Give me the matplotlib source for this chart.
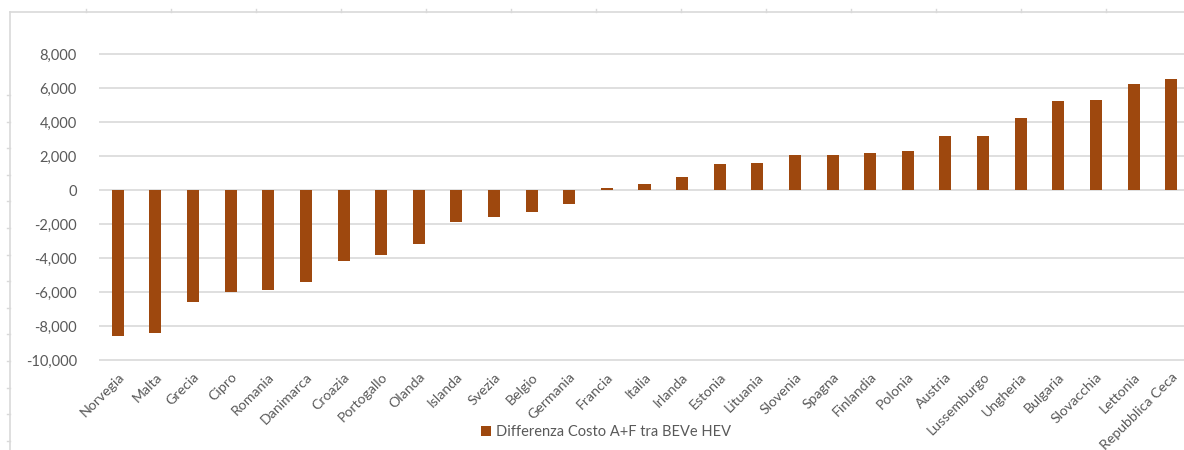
# Differenza Costo A+F tra BEV e HEV per paese
import matplotlib
matplotlib.use("Agg")
import matplotlib.pyplot as plt
from matplotlib.lines import Line2D
import numpy as np

# --- Data ---
countries = ["Norvegia", "Malta", "Grecia", "Cipro", "Romania", "Danimarca",
             "Croazia", "Portogallo", "Olanda", "Islanda", "Svezia", "Belgio",
             "Germania", "Francia", "Italia", "Irlanda", "Estonia", "Lituania",
             "Slovenia", "Spagna", "Finlandia", "Polonia", "Austria",
             "Lussemburgo", "Ungheria", "Bulgaria", "Slovacchia", "Lettonia",
             "Repubblica Ceca"]
diff_cost = [-8560, -8400, -6600, -6000, -5900, -5420, -4170, -3850, -3170,
             -1900, -1580, -1270, -800, 130, 370, 740, 1540, 1600, 2070,
             2080, 2150, 2310, 3190, 3190, 4260, 5210, 5300, 6220, 6540]
yticks = list(range(-10000, 8001, 2000))
series_label = "Differenza Costo A+F tra BEVe HEV"

BAR_COLOR = "#9E480E"
TEXT_COLOR = "#595959"
GRID_COLOR = "#D9D9D9"

plt.rcParams["font.family"] = ["Lato", "DejaVu Sans"]

fig = plt.figure(figsize=(11.84, 4.5), dpi=100)
ax = fig.add_axes([99 / 1184, 1 - 361 / 450, 1091 / 1184, 308 / 450])

x = np.arange(len(countries))
ax.bar(x, diff_cost, width=0.32, color=BAR_COLOR, label=series_label, zorder=3)

ax.set_xlim(-0.5, len(countries) - 0.5)
ax.set_ylim(-10060, 8060)
ax.set_yticks(yticks)
ax.set_yticklabels([f"{v:,}" for v in yticks], fontsize=10.5, color=TEXT_COLOR)
ax.yaxis.grid(True, color=GRID_COLOR, linewidth=1.2)
ax.set_axisbelow(True)

ax.set_xticks(x)
ax.set_xticklabels(countries, rotation=45, ha="right", rotation_mode="anchor",
                   fontsize=10.2, color=TEXT_COLOR)
ax.tick_params(axis="both", length=0)
ax.tick_params(axis="y", pad=16)
ax.tick_params(axis="x", pad=7)

for s in ax.spines.values():
    s.set_visible(False)

# legend at the bottom
fig.legend(loc="center", bbox_to_anchor=(606 / 1184, 1 - 432 / 450),
           frameon=False, fontsize=10.5, handlelength=0.7, handleheight=0.7,
           handletextpad=0.3, labelcolor=TEXT_COLOR)

# light outer frame with small ruler marks (as in the screenshot)
fig.add_artist(Line2D([10 / 1184, 1], [1 - 12 / 450] * 2, color=GRID_COLOR, lw=1.2))
fig.add_artist(Line2D([10 / 1184] * 2, [0, 1 - 12 / 450], color=GRID_COLOR, lw=1.2))
for px in range(86, 1184, 85):
    fig.add_artist(Line2D([px / 1184] * 2, [1 - 12 / 450, 1 - 9 / 450],
                          color=GRID_COLOR, lw=1))
for py in np.arange(95, 450, 26.6):
    fig.add_artist(Line2D([7 / 1184, 10 / 1184], [1 - py / 450] * 2,
                          color=GRID_COLOR, lw=1))

fig.savefig("out.png", dpi=100)
